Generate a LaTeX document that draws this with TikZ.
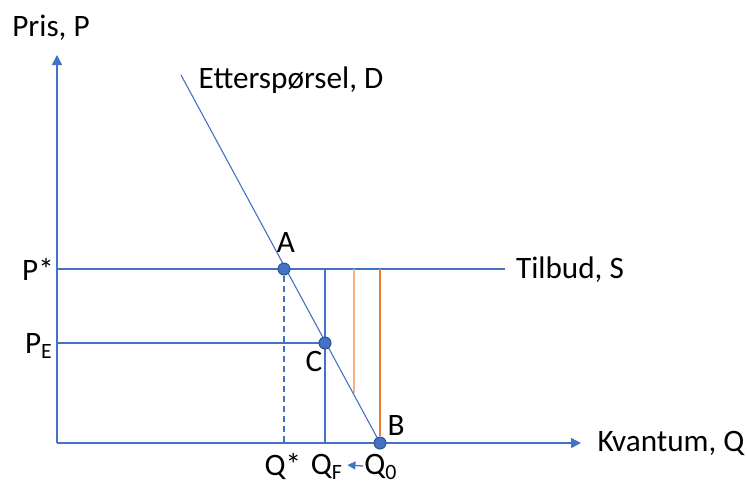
\documentclass[tikz,border=0pt]{standalone}
\usepackage{fontspec}
\setmainfont{Carlito}
\usetikzlibrary{arrows.meta}
\definecolor{ablue}{HTML}{4472C4}
\definecolor{dblue}{HTML}{2F528F}
\definecolor{lorange}{HTML}{F4B183}
\definecolor{dorange}{HTML}{ED7D31}
\begin{document}
\begin{tikzpicture}[x=0.5pt,y=-0.5pt,
  lbl/.style={font=\fontsize{15.6}{18}\selectfont, inner sep=0pt, text=black},
  axis/.style={draw=ablue, line width=0.7pt, -{Triangle[length=5pt,width=5pt]}},
  ln/.style={draw=ablue, line width=0.65pt},
  dot/.style={circle, fill=ablue, draw=dblue, line width=0.5pt, minimum size=6pt, inner sep=0pt}]
\useasboundingbox (0,0) rectangle (747,483);
% coordinates
\coordinate (O) at (57,443);
\coordinate (Ytop) at (57,55);
\coordinate (Xend) at (581,443);
\coordinate (Dtop) at (181,75);
\coordinate (PS) at (57,269);
\coordinate (Send) at (505,269);
\coordinate (PEl) at (57,343);
\coordinate (Qs) at (284,443);
\coordinate (QFb) at (325,443);
\coordinate (QFt) at (325,269);
\coordinate (O1t) at (354,269);
\coordinate (O1b) at (354,393);
\coordinate (O2t) at (380,269);
\coordinate (O2b) at (380,436);
% lines
\draw[ln] (PS) -- (Send);
\draw[ln] (PEl) -- (325,343);
\draw[ln] (QFt) -- (QFb);
\draw[draw=lorange, line width=0.6pt] (O1t) -- (O1b);
\draw[draw=dorange, line width=0.6pt] (O2t) -- (O2b);
\draw[ln, line width=0.55pt] (Dtop) -- (380,443);
\draw[axis] (O) -- (Ytop);
\draw[axis] (O) -- (Xend);
% dots
\node[dot] (A) at (284,269) {};
\node[dot] (C) at (325,343) {};
\node[dot] (B) at (380,443) {};
\draw[ln, dashed, dash pattern=on 3pt off 2pt] (A) -- (Qs);
% labels
\node[lbl] (pris) at (51,28) {Pris, P};
\node[lbl] (dlab) at (291,80) {Etterspørsel, D};
\node[lbl] (alab) at (286,242) {A};
\node[lbl] (clab) at (314,361) {C};
\node[lbl] (blab) at (396,425) {B};
\node[lbl] (pstar) at (38,269) {P*};
\node[lbl] (pe) at (39,346) {P\textsubscript{E}};
\node[lbl] (slab) at (570,270) {Tilbud, S};
\node[lbl] (klab) at (671,443) {Kvantum, Q};
\node[lbl] (qstar) at (283,466) {Q*};
\node[lbl] (qf) at (327,467) {Q\textsubscript{F}};
\node[lbl] (q0) at (381,467) {Q\textsubscript{0}};
\draw[ln, -{Triangle[length=4pt,width=4pt]}] (q0.west) ++(-1,-1) coordinate (qa) -- ([xshift=2pt,yshift=1pt]qf.east);
\end{tikzpicture}
\end{document}
